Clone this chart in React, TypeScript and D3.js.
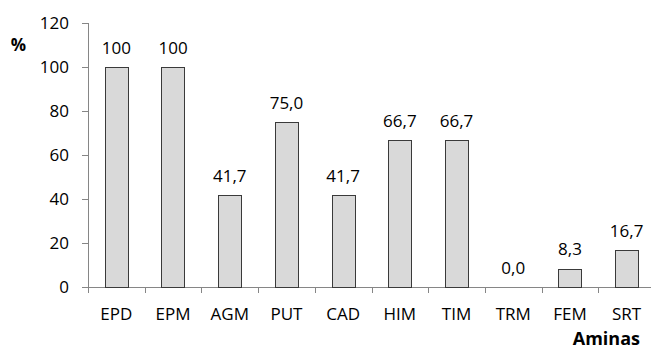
import React from "react";
import * as d3 from "d3";

const categories = ["EPD", "EPM", "AGM", "PUT", "CAD", "HIM", "TIM", "TRM", "FEM", "SRT"];
const values = [100, 100, 41.7, 75.0, 41.7, 66.7, 66.7, 0.0, 8.3, 16.7];
const valueLabels = ["100", "100", "41,7", "75,0", "41,7", "66,7", "66,7", "0,0", "8,3", "16,7"];
const yTicks = [0, 20, 40, 60, 80, 100, 120];

const W = 651;
const H = 349;
const left = 88;
const right = 655;
const top = 23;
const bottom = 287;
const font = "'Open Sans', sans-serif";
const axisColor = "#868686";

export default function App() {
  const x = d3.scaleBand<string>().domain(categories).range([left, right]).padding(0);
  const y = d3.scaleLinear().domain([0, 120]).range([bottom, top]);
  const barW = x.bandwidth() * 0.41;

  return (
    <svg width={W} height={H} style={{ position: "absolute", left: 0, top: 0, background: "#fff" }}>
      {/* y axis */}
      <line x1={left + 0.5} x2={left + 0.5} y1={y(120)} y2={bottom} stroke={axisColor} />
      {yTicks.map((t) => (
        <g key={t}>
          <line x1={left - 6} x2={left} y1={Math.round(y(t)) + 0.5} y2={Math.round(y(t)) + 0.5} stroke={axisColor} />
          <text x={69} y={y(t) + 6} textAnchor="end" fontFamily={font} fontSize={17} fill="#000">
            {t}
          </text>
        </g>
      ))}
      {/* x axis */}
      <line x1={left} x2={right} y1={bottom + 0.5} y2={bottom + 0.5} stroke={axisColor} />
      {categories.map((c) => (
        <line key={c} x1={Math.round(x(c)!) + 0.5} x2={Math.round(x(c)!) + 0.5} y1={bottom} y2={bottom + 6} stroke={axisColor} />
      ))}
      {/* bars */}
      {categories.map((c, i) => {
        const cx = x(c)! + x.bandwidth() / 2;
        const h = bottom - y(values[i]);
        return (
          <g key={c}>
            {values[i] > 0 && (
              <rect
                x={Math.round(cx - barW / 2) + 0.5}
                y={Math.round(y(values[i])) + 0.5}
                width={Math.round(barW)}
                height={Math.round(h)}
                fill="#d9d9d9"
                stroke="#3a3a3a"
              />
            )}
            <text x={cx} y={y(values[i]) - 13.5} textAnchor="middle" fontFamily={font} fontSize={17} fill="#000">
              {valueLabels[i]}
            </text>
            <text x={cx} y={320} textAnchor="middle" fontFamily={font} fontSize={17} fill="#000">
              {c}
            </text>
          </g>
        );
      })}
      <text x={26} y={51} textAnchor="end" fontFamily={font} fontSize={17} fontWeight="bold" fill="#000">
        %
      </text>
      <text x={640} y={345} textAnchor="end" fontFamily={font} fontSize={18} fontWeight="bold" fill="#000">
        Aminas
      </text>
    </svg>
  );
}
